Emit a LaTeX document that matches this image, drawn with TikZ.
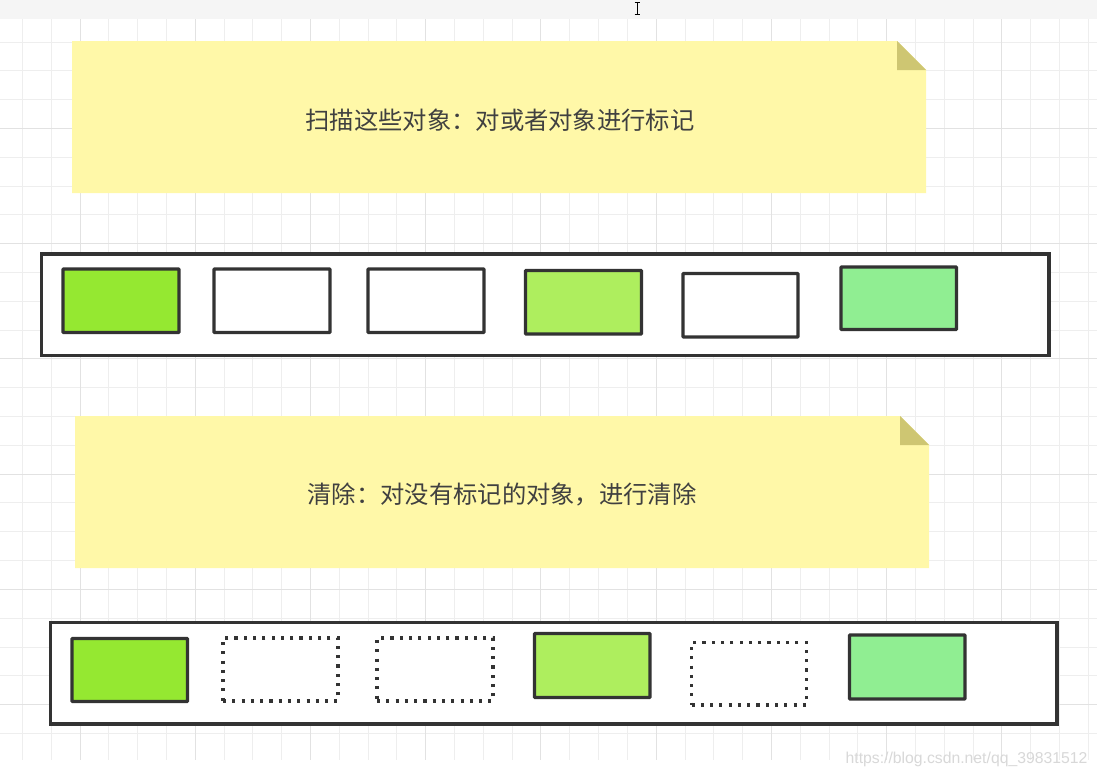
\documentclass[tikz,border=0pt]{standalone}
\usepackage{fontspec}
\newfontfamily\cjk{Noto Sans CJK SC}
\newfontfamily\wmfont{Liberation Sans}
\usetikzlibrary{fit}
\definecolor{notefill}{HTML}{FFF8A8}
\definecolor{foldfill}{HTML}{CEC672}
\definecolor{edge}{HTML}{333333}
\definecolor{txt}{HTML}{404040}
\definecolor{gA}{HTML}{95E831}
\definecolor{gB}{HTML}{AEEE5E}
\definecolor{gC}{HTML}{90EE92}
\definecolor{gridminor}{HTML}{EEEEEE}
\definecolor{gridmajor}{HTML}{E2E2E2}
\definecolor{band}{HTML}{F5F5F5}
\definecolor{wm}{HTML}{D8D8D8}
\tikzset{
  objbox/.style={draw=edge, line width=2.4pt, inner sep=0pt, rounded corners=0.6pt},
  deadbox/.style={draw=edge, line width=2.4pt, dash pattern=on 2.2pt off 4.4pt, inner sep=0pt},
  container/.style={draw=edge, line width=2.4pt, inner sep=0pt, fill=white},
  notetext/.style={text=txt, font=\cjk\fontsize{17.3}{20}\selectfont, inner sep=0pt},
}
\begin{document}
\begin{tikzpicture}[x=0.025cm,y=-0.025cm]
\useasboundingbox (0,0) rectangle (1097,777);
\fill[white] (0,0) rectangle (1097,777);
\fill[band] (0,0) rectangle (1097,19);
% grid
\foreach \k in {0,...,37}{
  \pgfmathsetmacro\xx{22.4+28.81*\k}
  \draw[gridminor, line width=0.7pt] (\xx,19) -- (\xx,760);
}
\foreach \k in {0,...,24}{
  \pgfmathsetmacro\yy{42+28.81*\k}
  \draw[gridminor, line width=0.7pt] (0,\yy) -- (1097,\yy);
}
\foreach \k in {0,...,8}{
  \pgfmathsetmacro\xx{80+115.24*\k}
  \draw[gridmajor, line width=0.7pt] (\xx,19) -- (\xx,760);
}
\foreach \k in {0,...,5}{
  \pgfmathsetmacro\yy{128.4+115.24*\k}
  \draw[gridmajor, line width=0.7pt] (0,\yy) -- (1097,\yy);
}
% cursor
\draw[black, line width=0.6pt] (637,2.5) -- (637,14.5) (634.5,2.5) -- (639.5,2.5) (634.5,14.5) -- (639.5,14.5);

% note 1
\fill[notefill] (72,41) -- (897,41) -- (926,70) -- (926,193) -- (72,193) -- cycle;
\fill[foldfill] (897,41) -- (926,70) -- (897,70) -- cycle;
\node[notetext] (t1) at (500,120) {扫描这些对象：对或者对象进行标记};

% row 1
\node[container, fit={(41.5,254) (1049,355.5)}] (c1) {};
\node[objbox, fill=gA, fit={(63,269) (179,332.5)}] (a1) {};
\node[objbox, fill=white, fit={(214,269) (330,332.5)}] (a2) {};
\node[objbox, fill=white, fit={(368,269) (484,332.5)}] (a3) {};
\node[objbox, fill=gB, fit={(525.5,270.5) (641.5,334)}] (a4) {};
\node[objbox, fill=white, fit={(683,273.5) (798,337)}] (a5) {};
\node[objbox, fill=gC, fit={(841,267) (956.5,329.5)}] (a6) {};

% note 2
\fill[notefill] (75,416) -- (900,416) -- (929,445) -- (929,568) -- (75,568) -- cycle;
\fill[foldfill] (900,416) -- (929,445) -- (900,445) -- cycle;
\node[notetext] (t2) at (502,494) {清除：对没有标记的对象，进行清除};

% row 2
\node[container, fit={(50.5,622.5) (1057,724)}] (c2) {};
\node[objbox, fill=gA, fit={(72,638.5) (187.5,701.5)}] (b1) {};
\node[deadbox, fit={(223,638) (338,701)}] (b2) {};
\node[deadbox, fit={(377,638) (493,701)}] (b3) {};
\node[objbox, fill=gB, fit={(534.5,633.5) (650,697.5)}] (b4) {};
\node[deadbox, fit={(691.5,642.5) (806.5,705)}] (b5) {};
\node[objbox, fill=gC, fit={(849.5,635) (965,699)}] (b6) {};

% watermark
\node[text=wm, font=\wmfont\fontsize{11.2}{13}\selectfont, inner sep=0pt] (wmk) at (966.5,759) {https://blog.csdn.net/qq\_39831512};
\end{tikzpicture}
\end{document}
